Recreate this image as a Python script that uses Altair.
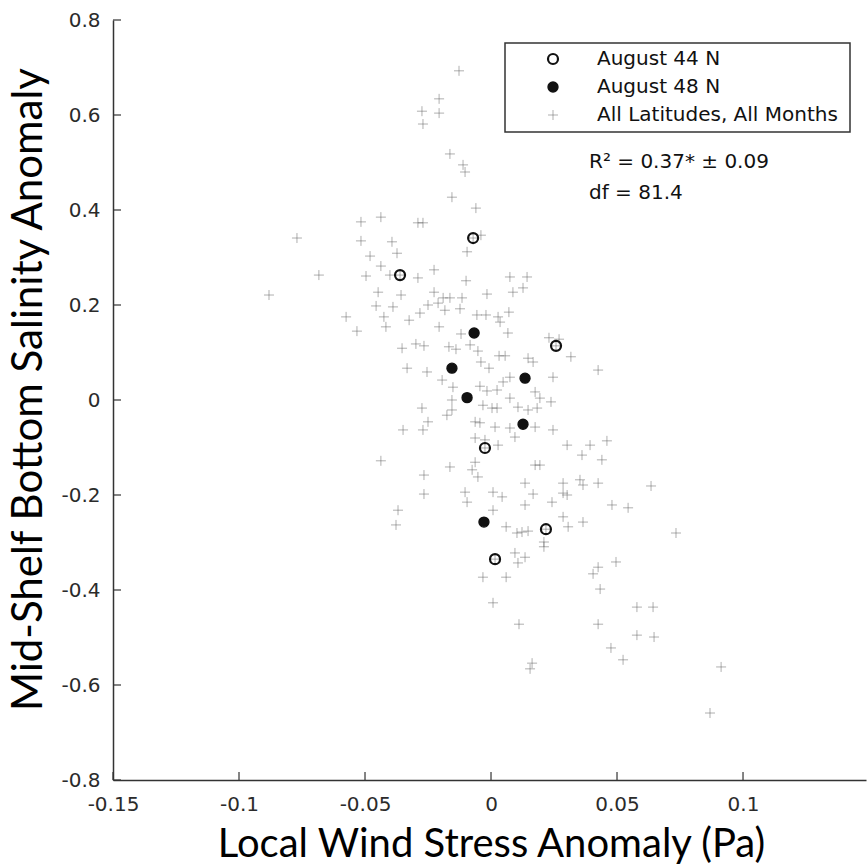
import altair as alt
import pandas as pd

series_names = ["August 44 N", "August 48 N", "All Latitudes, All Months"]

# All latitudes, all months (wind stress anomaly, Pa)
all_x = [
    -0.0127, -0.0206, -0.0274, -0.0206, -0.0270, -0.0163, -0.0111, -0.0103, -0.0155, -0.0060,
    -0.0437, -0.0516, -0.0290, -0.0270, -0.0040, -0.0770, -0.0516, -0.0393, -0.0373, -0.0480,
    -0.0095, -0.0437, -0.0683, -0.0496, -0.0401, -0.0290, -0.0226, -0.0099, -0.0881, -0.0448,
    -0.0357, -0.0226, -0.0190, -0.0163, -0.0115, -0.0016, 0.0075, 0.0143, 0.0127, 0.0087,
    -0.0456, -0.0389, -0.0250, -0.0210, -0.0183, -0.0282, -0.0123, -0.0325, -0.0206, -0.0119,
    -0.0056, -0.0020, 0.0028, 0.0071, 0.0036, -0.0575, -0.0532, -0.0425, -0.0417, 0.0067,
    0.0230, 0.0270, -0.0353, -0.0298, -0.0266, -0.0167, -0.0139, -0.0083, -0.0052, 0.0317,
    0.0425, 0.0032, 0.0056, 0.0147, 0.0167, -0.0333, -0.0254, -0.0194, -0.0040, -0.0008,
    0.0246, 0.0075, 0.0048, -0.0044, -0.0016, -0.0151, -0.0155, 0.0024, 0.0024, 0.0004,
    0.0075, 0.0175, 0.0194, 0.0238, -0.0032, 0.0107, 0.0147, 0.0183, -0.0274, -0.0175,
    -0.0155, -0.0250, -0.0270, -0.0349, -0.0063, -0.0044, 0.0016, 0.0075, 0.0095, 0.0175,
    0.0246, -0.0063, -0.0024, 0.0028, 0.0302, 0.0393, 0.0460, 0.0361, 0.0440, 0.0175,
    0.0194, -0.0163, -0.0075, -0.0052, -0.0266, 0.0135, 0.0286, 0.0353, 0.0365, 0.0425,
    0.0635, -0.0266, -0.0103, -0.0095, 0.0008, 0.0044, 0.0135, 0.0167, 0.0242, 0.0286,
    0.0302, 0.0480, 0.0544, 0.0008, 0.0060, 0.0103, 0.0123, 0.0147, 0.0286, 0.0306,
    0.0365, 0.0210, 0.0210, 0.0734, 0.0095, 0.0135, 0.0107, 0.0425, 0.0405, 0.0496,
    -0.0032, 0.0060, 0.0433, 0.0008, 0.0579, 0.0643, 0.0111, 0.0425, 0.0579, 0.0647,
    0.0476, 0.0524, 0.0163, 0.0155, 0.0913, 0.0869, -0.0437, -0.0369, -0.0377, -0.0063,
    -0.0361, -0.0071, 0.0258, -0.0024, 0.0218, 0.0016,
]
# Mid-shelf bottom salinity anomaly
all_y = [
    0.693, 0.634, 0.608, 0.604, 0.581, 0.518, 0.495, 0.480, 0.427, 0.404,
    0.385, 0.375, 0.373, 0.373, 0.347, 0.341, 0.335, 0.333, 0.309, 0.303,
    0.312, 0.282, 0.263, 0.261, 0.263, 0.257, 0.274, 0.251, 0.221, 0.227,
    0.221, 0.227, 0.215, 0.215, 0.215, 0.223, 0.259, 0.259, 0.236, 0.227,
    0.198, 0.196, 0.200, 0.204, 0.189, 0.183, 0.192, 0.168, 0.154, 0.139,
    0.179, 0.179, 0.175, 0.185, 0.164, 0.175, 0.145, 0.175, 0.154, 0.141,
    0.131, 0.128, 0.109, 0.118, 0.114, 0.112, 0.107, 0.116, 0.103, 0.091,
    0.063, 0.093, 0.093, 0.088, 0.080, 0.067, 0.059, 0.042, 0.080, 0.067,
    0.048, 0.048, 0.038, 0.029, 0.019, 0.027, 0.000, 0.021, -0.017, -0.017,
    0.004, 0.017, 0.004, -0.004, -0.011, -0.015, -0.021, -0.017, -0.017, -0.032,
    -0.021, -0.046, -0.063, -0.063, -0.046, -0.048, -0.057, -0.059, -0.078, -0.057,
    -0.063, -0.080, -0.084, -0.095, -0.095, -0.095, -0.086, -0.116, -0.126, -0.137,
    -0.137, -0.141, -0.147, -0.162, -0.158, -0.175, -0.175, -0.168, -0.179, -0.175,
    -0.181, -0.198, -0.194, -0.215, -0.194, -0.204, -0.221, -0.198, -0.215, -0.196,
    -0.200, -0.221, -0.227, -0.232, -0.267, -0.280, -0.278, -0.276, -0.246, -0.267,
    -0.257, -0.299, -0.309, -0.280, -0.322, -0.331, -0.343, -0.352, -0.366, -0.341,
    -0.373, -0.373, -0.398, -0.427, -0.436, -0.436, -0.472, -0.472, -0.495, -0.499,
    -0.522, -0.547, -0.554, -0.566, -0.562, -0.659, -0.128, -0.232, -0.263, -0.131,
    0.263, 0.341, 0.114, -0.101, -0.272, -0.335,
]

aug44_x = [-0.0361, -0.0071, 0.0258, -0.0024, 0.0218, 0.0016]
aug44_y = [0.263, 0.341, 0.114, -0.101, -0.272, -0.335]
aug48_x = [-0.0067, -0.0155, 0.0135, -0.0095, 0.0127, -0.0028]
aug48_y = [0.141, 0.067, 0.046, 0.005, -0.051, -0.257]

x_ticks = [-0.15, -0.1, -0.05, 0, 0.05, 0.1]
y_ticks = [-0.8, -0.6, -0.4, -0.2, 0, 0.2, 0.4, 0.6, 0.8]
stats_lines = ["R\u00b2 = 0.37* \u00b1 0.09", "df = 81.4"]

points = pd.concat([
    pd.DataFrame({"series": series_names[2], "x": all_x, "y": all_y}),
    pd.DataFrame({"series": series_names[0], "x": aug44_x, "y": aug44_y}),
    pd.DataFrame({"series": series_names[1], "x": aug48_x, "y": aug48_y}),
], ignore_index=True)

W, H = 753, 760
xscale = alt.Scale(domain=[-0.15, 0.1488], nice=False, zero=False)
yscale = alt.Scale(domain=[-0.8, 0.8], nice=False, zero=False)

CROSS = "M-1,0L1,0M0,-1L0,1"

legend = alt.Legend(
    title=None, orient="none", legendX=430, legendY=29, padding=0,
    labelFont="DejaVu Sans", labelFontSize=20, labelColor="#111111",
    labelOffset=34, rowPadding=8, labelLimit=400, symbolOpacity=1,
)

x_axis = alt.Axis(
    values=x_ticks, labelExpr="'' + datum.value", ticks=False, tickSize=0,
    grid=False, domainColor="#333333", domainWidth=1.5,
    labelFont="DejaVu Sans", labelFontSize=20, labelColor="#2b2b2b",
    labelPadding=14, labelFlush=False, labelOverlap=False,
    title="Local Wind Stress Anomaly (Pa)", titleFont="Lato", titleFontSize=40,
    titleFontWeight="normal", titleColor="#000000", titleX=378, titleY=64,
    titleBaseline="middle", titleAlign="center",
)
y_axis = alt.Axis(
    values=y_ticks, labelExpr="'' + datum.value", ticks=False, tickSize=0,
    grid=False, domainColor="#333333", domainWidth=1.5,
    labelFont="DejaVu Sans", labelFontSize=20, labelColor="#2b2b2b",
    labelPadding=13, labelFlush=False, labelOverlap=False,
    title="Mid-Shelf Bottom Salinity Anomaly", titleFont="Lato", titleFontSize=42,
    titleFontWeight="normal", titleColor="#000000", titleX=-85, titleY=369,
    titleBaseline="middle", titleAlign="center", titleAngle=-90,
)

pts = alt.Chart(points).mark_point(opacity=1).encode(
    x=alt.X("x:Q", scale=xscale, axis=x_axis),
    y=alt.Y("y:Q", scale=yscale, axis=y_axis),
    shape=alt.Shape("series:N", scale=alt.Scale(domain=series_names, range=["circle", "circle", CROSS]), legend=legend),
    fill=alt.Fill("series:N", scale=alt.Scale(domain=series_names, range=["transparent", "#111111", "transparent"]), legend=legend),
    stroke=alt.Stroke("series:N", scale=alt.Scale(domain=series_names, range=["#111111", "#111111", "#5e5e5e"]), legend=legend),
    size=alt.Size("series:N", scale=alt.Scale(domain=series_names, range=[100, 100, 185]), legend=legend),
    strokeWidth=alt.StrokeWidth("series:N", scale=alt.Scale(domain=series_names, range=[2.2, 0.5, 1.8]), legend=legend),
)

xt = alt.Chart(pd.DataFrame({"x": x_ticks})).mark_rule(color="#333333", strokeWidth=1.2).encode(
    x=alt.X("x:Q", scale=xscale, axis=x_axis), y=alt.value(H), y2=alt.value(H - 8)
)
yt = alt.Chart(pd.DataFrame({"y": y_ticks})).mark_rule(color="#333333", strokeWidth=1.2).encode(
    y=alt.Y("y:Q", scale=yscale, axis=y_axis), x=alt.value(0), x2=alt.value(8)
)

frame = alt.Chart(pd.DataFrame({"k": [0]})).mark_rect(fillOpacity=0, stroke="#333333", strokeWidth=1.5).encode(
    x=alt.value(392), x2=alt.value(737), y=alt.value(23), y2=alt.value(112)
)

t1 = alt.Chart(pd.DataFrame({"label": [stats_lines[0]]})).mark_text(
    align="left", baseline="middle", font="DejaVu Sans", fontSize=20, color="#111111"
).encode(text="label:N", x=alt.value(476), y=alt.value(142))
t2 = alt.Chart(pd.DataFrame({"label": [stats_lines[1]]})).mark_text(
    align="left", baseline="middle", font="DejaVu Sans", fontSize=20, color="#111111"
).encode(text="label:N", x=alt.value(476), y=alt.value(173))

chart = alt.layer(frame, xt, yt, pts, t1, t2).properties(
    width=W, height=H,
    autosize=alt.AutoSizeParams(type="none"),
    padding={"left": 113, "top": 20, "right": 1, "bottom": 86},
).configure(background="white").configure_view(stroke=None)

chart.save("out.html", embed_options={"renderer": "svg", "actions": False})
